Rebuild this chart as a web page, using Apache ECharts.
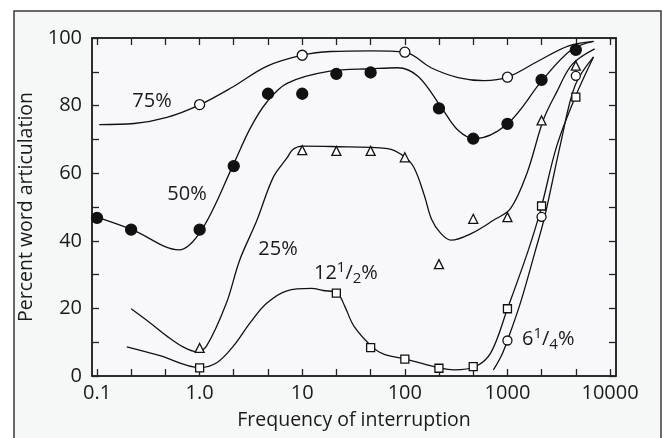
<!DOCTYPE html>
<html><head><meta charset="utf-8">
<script src="https://cdn.jsdelivr.net/npm/echarts@6/dist/echarts.min.js"></script>
<style>html,body{margin:0;padding:0;background:#fff}#c{width:662px;height:438px}</style>
</head><body><div id="c"></div>
<script>
// ---- tick labels ----
const xTickFreqs = [0.1, 1, 10, 100, 1000, 10000];
const xTickLabels = ['0.1', '1.0', '10', '100', '1000', '10000'];
const xMinorTickFreqs = [0.1, 0.215, 0.464, 1, 2.15, 4.64, 10, 21.5, 46.4, 100, 215, 464, 1000, 2150, 4640, 10000];
const yTickLabels = [0, 20, 40, 60, 80, 100];

// ---- measured points ----
const freq75 = [1, 10, 100, 1000];
const val75 = [80.3, 94.9, 95.8, 88.4];
const freq50 = [0.1, 0.215, 1, 2.15, 4.64, 10, 21.5, 46.4, 215, 464, 1000, 2150, 4640];
const val50 = [46.8, 43.3, 43.3, 62.1, 83.5, 83.5, 89.4, 89.8, 79.2, 70.2, 74.6, 87.6, 96.5];
const freq25 = [1, 10, 21.5, 46.4, 100, 215, 464, 1000, 2150, 4640];
const val25 = [8.3, 66.8, 66.6, 66.6, 64.7, 33.1, 46.5, 47, 75.6, 91.8];
const freq12 = [1, 21.5, 46.4, 100, 215, 464, 1000, 2150, 4640];
const val12 = [2.4, 24.5, 8.4, 5, 2.3, 2.8, 19.9, 50.3, 82.5];
const freq6 = [1000, 2150, 4640];
const val6 = [10.5, 47.1, 88.8];

// ---- fitted curves ----
const curve75F = [0.105, 0.23, 0.48, 1.0, 2.1, 4.5, 10, 19, 47, 100, 180, 330, 590, 1000, 2000, 3900, 6900];
const curve75V = [74.4, 74.7, 76.5, 80.2, 85.5, 91.6, 94.9, 96, 96.2, 95.8, 91.2, 88.3, 87.4, 88.4, 93.2, 97.6, 99];
const curve50F = [0.105, 0.22, 0.63, 1.05, 2.1, 3.1, 4.5, 7.1, 18.6, 48, 85, 135, 230, 330, 480, 1000, 2200, 4200, 6900];
const curve50V = [46.8, 43.3, 37.3, 43.3, 62.1, 73.2, 81, 86.6, 90.2, 90.9, 91.2, 88.6, 79.2, 72.7, 70.2, 74.6, 87.6, 96.5, 99];
const curve25F = [0.215, 0.33, 0.48, 0.69, 0.93, 1.17, 1.82, 2.45, 3.6, 5.2, 7.1, 8.1, 10, 19, 68, 98, 123, 155, 182, 224, 282, 447, 724, 1070, 1550, 2240, 3020, 4270, 7080];
const curve25V = [19.9, 15.7, 11.8, 8.6, 7.2, 8.9, 21.5, 34.2, 45.9, 58.7, 64.5, 67, 68, 67.9, 67.3, 65, 61.6, 53.4, 46.4, 42.2, 40.2, 42.2, 46, 49.5, 60, 75.8, 84, 92.2, 96.8];
const curve12F = [0.195, 0.41, 1.0, 1.48, 2.14, 3.1, 4.5, 7.1, 12.3, 16, 22, 26, 32, 49, 63, 102, 224, 302, 490, 690, 1000, 1580, 2100, 3020, 4570, 6900];
const curve12V = [8.6, 6, 2.5, 4, 8.9, 15.7, 21.5, 25.2, 25.9, 25.3, 24.5, 20.6, 14.7, 8.4, 6.4, 5, 2.3, 1.8, 2.8, 6.9, 19.9, 36.8, 49, 68, 82.5, 94.4];
const curve6F = [730, 870, 1000, 1350, 1860, 2300, 3310, 4570, 6900];
const curve6V = [1.8, 5.9, 10.5, 22, 36.8, 47, 69, 86, 94.4];

const lg = Math.log10;
const pairs = (f, v) => f.map((x, i) => [lg(x), v[i]]);

const FONT = 'Open Sans';
const INK = '#1a1a1a';

function curve(f, v) {
  return { type: 'line', data: pairs(f, v), smooth: 0.35, showSymbol: false, symbol: 'none',
    lineStyle: { color: '#111', width: 1.3 }, z: 2, silent: true };
}
function pts(f, v, symbol, size, fill) {
  return { type: 'scatter', data: pairs(f, v), symbol: symbol, symbolSize: size, z: 4,
    itemStyle: { color: fill, borderColor: '#111', borderWidth: 1.3, opacity: 1 } };
}

const xMin = -1.049, xMax = 4.058;
const tickVals = xMinorTickFreqs.map(lg);
const labelVals = xTickFreqs.map(lg);
const axisLineStyle = { show: true, onZero: false, lineStyle: { color: '#222', width: 1.5 } };
const tickStyle = { color: '#222', width: 1.3 };
const richFrac = {
  s: { fontSize: 15, lineHeight: 15, verticalAlign: 'top', fill: INK, fontFamily: FONT },
  u: { fontSize: 15, lineHeight: 15, verticalAlign: 'bottom', fill: INK, fontFamily: FONT }
};

const chart = echarts.init(document.getElementById('c'), null, { renderer: 'canvas' });
chart.setOption({
  animation: false,
  backgroundColor: '#ffffff',
  textStyle: { fontFamily: FONT },
  graphic: [
    { type: 'rect', z: -10, shape: { x: 14, y: 11, width: 647, height: 440 },
      style: { fill: '#f6f7f7', stroke: '#3a3a3a', lineWidth: 1.5 } },
    { type: 'text', z: 10, style: { text: '75%', x: 152, y: 101, align: 'center', verticalAlign: 'middle', font: '20px "Open Sans"', fill: INK } },
    { type: 'text', z: 10, style: { text: '50%', x: 187, y: 194, align: 'center', verticalAlign: 'middle', font: '20px "Open Sans"', fill: INK } },
    { type: 'text', z: 10, style: { text: '25%', x: 278, y: 249, align: 'center', verticalAlign: 'middle', font: '20px "Open Sans"', fill: INK } },
    { type: 'text', z: 10, style: { text: '12{s|1}/{u|2}%', x: 314, y: 273, align: 'left', verticalAlign: 'middle',
        fontFamily: FONT, fontSize: 20, lineHeight: 26, fill: INK, rich: richFrac } },
    { type: 'text', z: 10, style: { text: '6{s|1}/{u|4}%', x: 522, y: 339, align: 'left', verticalAlign: 'middle',
        fontFamily: FONT, fontSize: 20, lineHeight: 26, fill: INK, rich: richFrac } }
  ],
  grid: { left: 92, top: 38, right: 46, bottom: 62, show: true, backgroundColor: '#f8f7fa', borderColor: '#222', borderWidth: 1.5 },
  xAxis: [
    { type: 'value', min: xMin, max: xMax, position: 'bottom',
      name: 'Frequency of interruption', nameLocation: 'middle', nameGap: 34,
      nameTextStyle: { fontSize: 19.5, color: INK, fontFamily: FONT },
      axisLine: axisLineStyle,
      axisTick: { show: true, inside: true, length: 7, customValues: tickVals, lineStyle: tickStyle },
      axisLabel: { show: true, customValues: labelVals, margin: 7, fontSize: 20, color: INK, fontFamily: FONT,
        formatter: v => { const i = labelVals.findIndex(t => Math.abs(t - v) < 1e-6); return i >= 0 ? xTickLabels[i] : ''; } },
      splitLine: { show: false } },
    { type: 'value', min: xMin, max: xMax, position: 'top',
      axisLine: axisLineStyle,
      axisTick: { show: true, inside: true, length: 7, customValues: tickVals, lineStyle: tickStyle },
      axisLabel: { show: false }, splitLine: { show: false } }
  ],
  yAxis: [
    { type: 'value', min: 0, max: 100, interval: 10, position: 'left',
      name: 'Percent word articulation', nameLocation: 'middle', nameGap: 48,
      nameTextStyle: { fontSize: 19.5, color: INK, fontFamily: FONT },
      axisLine: axisLineStyle,
      axisTick: { show: true, inside: true, length: 7, lineStyle: tickStyle },
      axisLabel: { show: true, customValues: yTickLabels, margin: 10, fontSize: 20, color: INK, fontFamily: FONT },
      splitLine: { show: false } },
    { type: 'value', min: 0, max: 100, interval: 10, position: 'right',
      axisLine: axisLineStyle,
      axisTick: { show: true, inside: true, length: 7, lineStyle: tickStyle },
      axisLabel: { show: false }, splitLine: { show: false } }
  ],
  series: [
    curve(curve75F, curve75V),
    curve(curve50F, curve50V),
    curve(curve25F, curve25V),
    curve(curve12F, curve12V),
    curve(curve6F, curve6V),
    pts(freq75, val75, 'circle', 10, '#ffffff'),
    pts(freq50, val50, 'circle', 11, '#111111'),
    pts(freq25, val25, 'triangle', 9, '#ffffff'),
    pts(freq12, val12, 'rect', 8, '#ffffff'),
    pts(freq6, val6, 'circle', 9, '#ffffff')
  ]
});
</script>
</body></html>
